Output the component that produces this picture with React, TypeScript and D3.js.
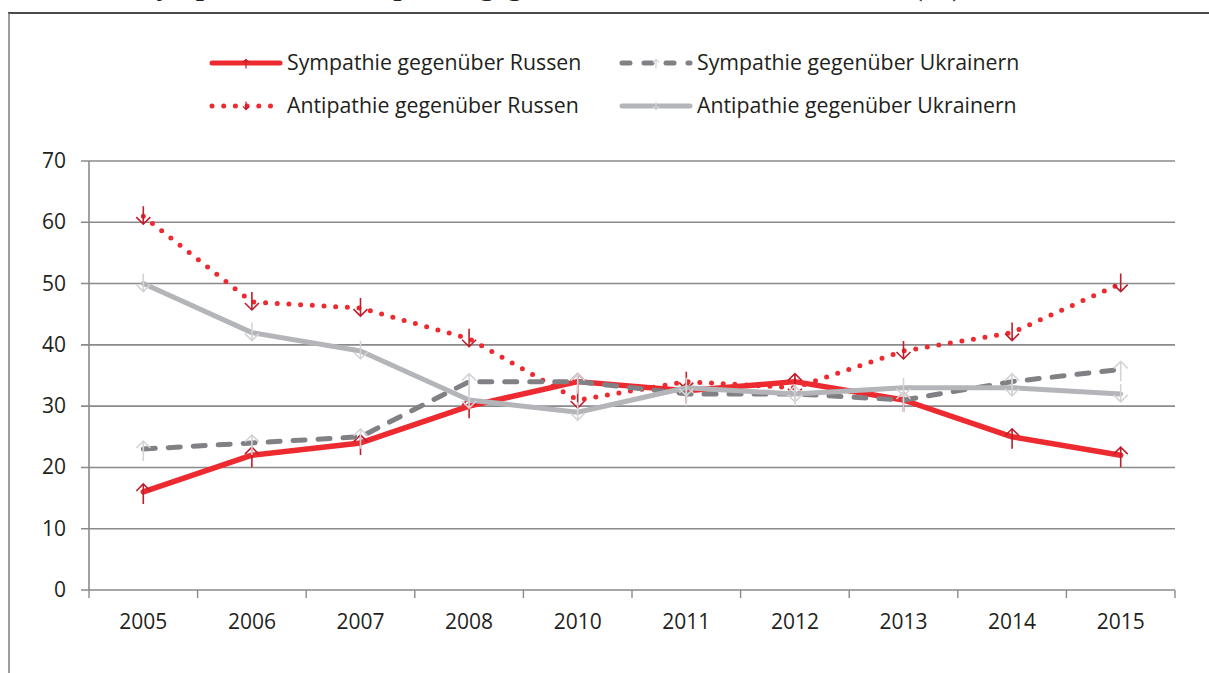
import { useMemo } from "react";
import * as d3 from "d3";

const years = ["2005", "2006", "2007", "2008", "2010", "2011", "2012", "2013", "2014", "2015"];
const sympRussen = [16, 22, 24, 30, 34, 32.5, 34, 31, 25, 22];
const antiRussen = [61, 47, 46, 41, 31, 34, 33, 39, 42, 50];
const sympUkr = [23, 24, 25, 34, 34, 32, 32, 31, 34, 36];
const antiUkr = [50, 42, 39, 31, 29, 33, 32, 33, 33, 32];
const yTicks = [0, 10, 20, 30, 40, 50, 60, 70];

const titleText = "Sympathie und Antipathie gegenüber Russen und Ukrainern (%)";

type Series = {
  name: string;
  values: number[];
  color: string;
  width: number;
  dash?: string;
  marker: "up" | "down";
  markerColor: string;
};

const series: Series[] = [
  { name: "Sympathie gegenüber Russen", values: sympRussen, color: "#ed2a2f", width: 5.5, marker: "up", markerColor: "#be1e2d" },
  { name: "Antipathie gegenüber Russen", values: antiRussen, color: "#ed2a2f", width: 5, dash: "0 11.7", marker: "down", markerColor: "#be1e2d" },
  { name: "Sympathie gegenüber Ukrainern", values: sympUkr, color: "#808085", width: 5, dash: "12 13", marker: "up", markerColor: "#d4d4d6" },
  { name: "Antipathie gegenüber Ukrainern", values: antiUkr, color: "#b3b5b8", width: 5, marker: "down", markerColor: "#d4d4d6" },
];

const W = 1209;
const H = 673;
const left = 89;
const right = 1175;
const top = 161;
const bottom = 590;
const font = "'Open Sans', 'Noto Sans', sans-serif";
const textColor = "#231f20";
const axisColor = "#8a8a8d";

const arrowPath = (x: number, y: number, dir: "up" | "down", s = 1) =>
  dir === "up"
    ? `M${x},${y + 12 * s}L${x},${y - 8 * s}M${x - 7 * s},${y - 1 * s}L${x},${y - 8 * s}L${x + 7 * s},${y - 1 * s}`
    : `M${x},${y - 10 * s}L${x},${y + 8 * s}M${x - 7 * s},${y + 1 * s}L${x},${y + 8 * s}L${x + 7 * s},${y + 1 * s}`;

export default function App() {
  const x = useMemo(() => d3.scaleBand<string>().domain(years).range([left, right]), []);
  const y = useMemo(() => d3.scaleLinear().domain([0, 70]).range([bottom, top]), []);
  const line = useMemo(
    () =>
      d3
        .line<number>()
        .x((_, i) => (x(years[i]) ?? 0) + x.bandwidth() / 2)
        .y((d) => y(d)),
    [x, y],
  );

  const legendPos = [
    { lx: 210, ly: 63 },
    { lx: 210, ly: 106 },
    { lx: 620, ly: 63 },
    { lx: 620, ly: 106 },
  ];

  return (
    <svg width={W} height={H} style={{ position: "absolute", left: 0, top: 0, background: "#fff" }}>
      {/* title, cut off at the top edge as in the source page */}
      <text
        x={140}
        y={-4}
        fontFamily="'Liberation Serif', 'DejaVu Serif', serif"
        fontWeight="bold"
        fontSize={26}
        fill={textColor}
        textLength={822}
        lengthAdjust="spacingAndGlyphs"
      >
        {titleText}
      </text>

      {/* frame */}
      <line x1={8} x2={W} y1={13} y2={13} stroke="#4a4a4a" strokeWidth={2} />
      <line x1={9} x2={9} y1={13} y2={H} stroke="#7d7d7d" strokeWidth={1.5} />

      {/* legend */}
      {series.map((s, i) => {
        const { lx, ly } = legendPos[i];
        return (
          <g key={s.name}>
            <line
              x1={lx + 2}
              x2={lx + 70}
              y1={ly}
              y2={ly}
              stroke={s.color}
              strokeWidth={5}
              strokeLinecap="round"
              strokeDasharray={s.dash === "12 13" ? "8 14" : s.dash}
            />
            <path d={arrowPath(lx + 36, ly, s.marker, 0.45)} stroke={s.markerColor} strokeWidth={1.2} fill="none" />
            <text x={lx + 77} y={ly + 7} fontFamily={font} fontSize={21.3} fill={textColor}>
              {s.name}
            </text>
          </g>
        );
      })}

      {/* gridlines */}
      {yTicks.map((t) => (
        <g key={t}>
          <line x1={left - 8} x2={right} y1={y(t)} y2={y(t)} stroke={axisColor} strokeWidth={1.6} />
          <text x={66} y={y(t) + 7} textAnchor="end" fontFamily={font} fontSize={21} fill={textColor}>
            {t}
          </text>
        </g>
      ))}
      <line x1={left} x2={left} y1={top} y2={bottom} stroke={axisColor} strokeWidth={1.6} />

      {/* x axis ticks */}
      {[...years.map((yr) => x(yr) ?? 0), right].map((px, i) => (
        <line key={i} x1={px} x2={px} y1={bottom} y2={bottom + 8} stroke={axisColor} strokeWidth={1.4} />
      ))}
      {years.map((yr) => (
        <text
          key={yr}
          x={(x(yr) ?? 0) + x.bandwidth() / 2}
          y={629}
          textAnchor="middle"
          fontFamily={font}
          fontSize={21}
          fill={textColor}
        >
          {yr}
        </text>
      ))}

      {/* series */}
      {series.map((s) => (
        <g key={s.name}>
          <path
            d={line(s.values) ?? ""}
            fill="none"
            stroke={s.color}
            strokeWidth={s.width}
            strokeLinecap="round"
            strokeLinejoin="round"
            strokeDasharray={s.dash}
          />
          {s.values.map((v, i) => (
            <path
              key={i}
              d={arrowPath((x(years[i]) ?? 0) + x.bandwidth() / 2, y(v), s.marker)}
              stroke={s.markerColor}
              strokeWidth={1.6}
              fill="none"
            />
          ))}
        </g>
      ))}
    </svg>
  );
}
